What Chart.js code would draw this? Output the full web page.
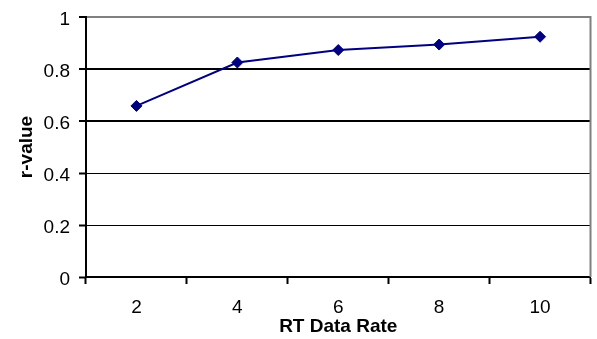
<!DOCTYPE html>
<html>
<head>
<meta charset="utf-8">
<script src="https://cdn.jsdelivr.net/npm/chart.js@4/dist/chart.umd.min.js"></script>
<style>
  html, body { margin: 0; padding: 0; background: #fff; }
  #wrap { width: 597px; height: 339px; position: relative; }
</style>
</head>
<body>
<div id="wrap"><canvas id="c"></canvas></div>
<script>
// RT data rate vs. correlation (r-value)
const dataRates = ['2', '4', '6', '8', '10'];
const rValues = [0.658, 0.825, 0.873, 0.894, 0.924];
const yTicks = [0, 0.2, 0.4, 0.6, 0.8, 1];

const FONT = 'Liberation Sans, Arial, Helvetica, sans-serif';

// gray frame line along the right edge of the plot area
const rightFrame = {
  id: 'rightFrame',
  afterDraw(chart) {
    const { ctx, chartArea } = chart;
    ctx.save();
    ctx.strokeStyle = '#808080';
    ctx.lineWidth = 2;
    ctx.beginPath();
    ctx.moveTo(chartArea.right, chartArea.top - 1);
    ctx.lineTo(chartArea.right, chartArea.bottom);
    ctx.stroke();
    ctx.restore();
  }
};

new Chart(document.getElementById('c'), {
  type: 'line',
  data: {
    labels: dataRates,
    datasets: [{
      data: rValues,
      borderColor: '#000080',
      backgroundColor: '#000080',
      borderWidth: 2,
      pointStyle: 'rectRot',
      pointRadius: 5.5,
      pointBorderWidth: 1,
      pointBorderColor: '#000080',
      pointBackgroundColor: '#000080',
      tension: 0,
      fill: false
    }]
  },
  options: {
    responsive: true,
    maintainAspectRatio: false,
    animation: false,
    devicePixelRatio: 1,
    layout: { padding: { top: 17, right: 1, left: 0, bottom: 0 } },
    plugins: { legend: { display: false }, tooltip: { enabled: false } },
    scales: {
      x: {
        type: 'category',
        offset: true,
        afterFit(scale) {
          scale.height = 62;
          scale.paddingLeft = 0;
          scale.paddingRight = 0;
        },
        grid: {
          offset: true,
          drawOnChartArea: false,
          drawTicks: true,
          tickLength: 7,
          tickColor: '#000',
          tickWidth: 2
        },
        border: { display: true, color: '#000', width: 2 },
        ticks: {
          color: '#000',
          padding: 12,
          font: { family: FONT, size: 19 }
        },
        title: {
          display: true,
          text: 'RT Data Rate',
          color: '#000',
          padding: { top: 0, bottom: 1 },
          font: { family: FONT, size: 19, weight: 'bold', lineHeight: 1.2 }
        }
      },
      y: {
        min: 0,
        max: 1,
        afterFit(scale) {
          scale.width = 86;
          scale.paddingTop = 0;
          scale.paddingBottom = 0;
        },
        afterBuildTicks(scale) { scale.ticks = yTicks.map(v => ({ value: v })); },
        grid: {
          drawTicks: true,
          tickLength: 7,
          tickColor: '#000',
          tickWidth: 2,
          color: (c) => (c.tick && c.tick.value === 1 ? '#808080' : '#000'),
          lineWidth: (c) => {
            if (!c.tick) return 1;
            const v = c.tick.value;
            return (v === 1 || v === 0.8 || v === 0.6) ? 2 : 1;
          }
        },
        border: { display: true, color: '#000', width: 2 },
        ticks: {
          color: '#000',
          padding: 9,
          labelOffset: 3,
          font: { family: FONT, size: 19 },
          callback: (v) => String(Math.round(v * 10) / 10)
        },
        title: {
          display: true,
          text: 'r-value',
          color: '#000',
          padding: { top: 15, bottom: 0 },
          font: { family: FONT, size: 19, weight: 'bold', lineHeight: 1.2 }
        }
      }
    }
  },
  plugins: [rightFrame]
});
</script>
</body>
</html>
